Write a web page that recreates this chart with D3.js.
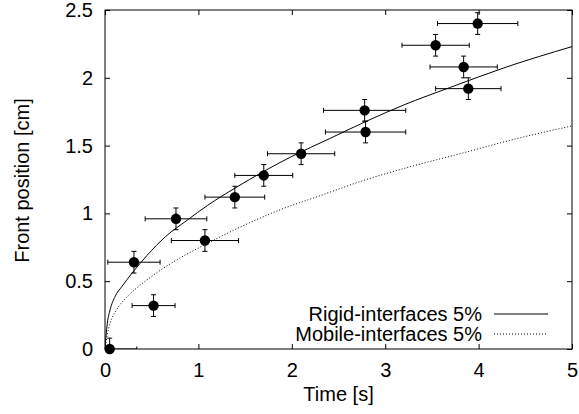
<!DOCTYPE html>
<html>
<head>
<meta charset="utf-8">
<script src="https://cdn.jsdelivr.net/npm/d3@7"></script>
<style>
  body { margin: 0; background: #fff; }
  svg { display: block; font-family: "Liberation Sans", Arial, sans-serif; }
</style>
</head>
<body>
<div id="chart"></div>
<script>
// measured front positions with error bars
var time = [0.05, 0.31, 0.52, 0.76, 1.07, 1.39, 1.70, 2.10, 2.78, 2.79, 3.54, 3.84, 3.89, 3.99];
var front = [0, 0.64, 0.32, 0.96, 0.80, 1.12, 1.28, 1.44, 1.76, 1.60, 2.24, 2.08, 1.92, 2.40];
var timeErr = [0.29, 0.28, 0.23, 0.33, 0.36, 0.32, 0.31, 0.36, 0.44, 0.43, 0.36, 0.36, 0.35, 0.43];
var frontErr = [0.08, 0.08, 0.08, 0.08, 0.08, 0.08, 0.08, 0.08, 0.08, 0.08, 0.08, 0.08, 0.08, 0.08];

// model curves
var rigidT = [0, 0.01, 0.025, 0.055, 0.11, 0.18, 0.29, 0.45, 0.65, 0.88, 1.1, 1.4, 1.7, 2.0, 2.4, 2.8, 3.2, 3.7, 4.3, 5.0];
var rigidY = [0, 0.09, 0.19, 0.29, 0.39, 0.46, 0.56, 0.69, 0.83, 0.95, 1.06, 1.19, 1.31, 1.42, 1.55, 1.68, 1.80, 1.93, 2.08, 2.23];
var mobileT = [0, 0.02, 0.055, 0.125, 0.23, 0.375, 0.57, 0.8, 1.1, 1.45, 1.85, 2.3, 2.8, 3.3, 3.8, 4.4, 5.0];
var mobileY = [0, 0.09, 0.19, 0.29, 0.38, 0.47, 0.57, 0.67, 0.78, 0.90, 1.02, 1.13, 1.25, 1.35, 1.44, 1.55, 1.645];

var xTicks = [0, 1, 2, 3, 4, 5];
var yTicks = [0, 0.5, 1, 1.5, 2, 2.5];
var legendLabels = ["Rigid-interfaces 5%", "Mobile-interfaces 5%"];

var W = 579, H = 414;
var margin = { top: 10, right: 7, bottom: 65, left: 105 };
var width = W - margin.left - margin.right,
  height = H - margin.top - margin.bottom;

var svg = d3.select("#chart").append("svg")
  .attr("width", W)
  .attr("height", H);

var g = svg.append("g")
  .attr("transform", "translate(" + margin.left + "," + margin.top + ")");

var x = d3.scaleLinear().domain([0, 5]).range([0, width]);
var y = d3.scaleLinear().domain([0, 2.5]).range([height, 0]);

svg.append("defs").append("clipPath").attr("id", "plotclip")
  .append("rect").attr("width", width).attr("height", height);

var fontSize = 20;
var tickLen = 5;

// axes: inward ticks on all four sides, labels on bottom and left only
g.append("g").attr("transform", "translate(0," + height + ")")
  .call(d3.axisBottom(x).tickValues(xTicks).tickSizeInner(-tickLen).tickSizeOuter(0).tickPadding(14)
    .tickFormat(d3.format("d")));
g.append("g").call(d3.axisTop(x).tickValues(xTicks).tickSizeInner(-tickLen).tickSizeOuter(0).tickFormat(""));
g.append("g").call(d3.axisLeft(y).tickValues(yTicks).tickSizeInner(-tickLen).tickSizeOuter(0).tickPadding(12)
  .tickFormat(function (d) { return d === 0 ? "0" : String(d); }));
g.append("g").attr("transform", "translate(" + width + ",0)")
  .call(d3.axisRight(y).tickValues(yTicks).tickSizeInner(-tickLen).tickSizeOuter(0).tickFormat(""));

g.selectAll(".domain").remove();
g.selectAll(".tick line").attr("stroke", "#000");
g.selectAll(".tick text").attr("font-size", fontSize).attr("fill", "#000")
  .attr("font-family", "'Liberation Sans', Arial, sans-serif");

g.append("rect")
  .attr("width", width).attr("height", height)
  .attr("fill", "none").attr("stroke", "#000").attr("stroke-width", 1);

// axis titles
svg.append("text")
  .attr("x", margin.left + width / 2).attr("y", 401)
  .attr("text-anchor", "middle").attr("font-size", fontSize)
  .text("Time [s]");

svg.append("text")
  .attr("transform", "translate(29," + (margin.top + height / 2 + 1) + ") rotate(-90)")
  .attr("text-anchor", "middle").attr("font-size", fontSize)
  .text("Front position [cm]");

// curves
var line = d3.line()
  .x(function (d) { return x(d[0]); })
  .y(function (d) { return y(d[1]); })
  .curve(d3.curveMonotoneX);

var plot = g.append("g").attr("clip-path", "url(#plotclip)");

plot.append("path")
  .datum(rigidT.map(function (t, i) { return [t, rigidY[i]]; }))
  .attr("d", line)
  .attr("fill", "none").attr("stroke", "#000").attr("stroke-width", 1);

plot.append("path")
  .datum(mobileT.map(function (t, i) { return [t, mobileY[i]]; }))
  .attr("d", line)
  .attr("fill", "none").attr("stroke", "#000").attr("stroke-width", 1)
  .attr("stroke-dasharray", "1,2");

// error bars
var pts = time.map(function (t, i) {
  return { t: t, f: front[i], dt: timeErr[i], df: frontErr[i] };
});
var cap = 2.5;
var bars = plot.selectAll(".err").data(pts).enter().append("g")
  .attr("stroke", "#000").attr("stroke-width", 1);

bars.append("line")
  .attr("x1", function (d) { return x(d.t - d.dt); })
  .attr("x2", function (d) { return x(d.t + d.dt); })
  .attr("y1", function (d) { return y(d.f); })
  .attr("y2", function (d) { return y(d.f); });
bars.append("line")
  .attr("x1", function (d) { return x(d.t - d.dt); })
  .attr("x2", function (d) { return x(d.t - d.dt); })
  .attr("y1", function (d) { return y(d.f) - cap; })
  .attr("y2", function (d) { return y(d.f) + cap; });
bars.append("line")
  .attr("x1", function (d) { return x(d.t + d.dt); })
  .attr("x2", function (d) { return x(d.t + d.dt); })
  .attr("y1", function (d) { return y(d.f) - cap; })
  .attr("y2", function (d) { return y(d.f) + cap; });
bars.append("line")
  .attr("x1", function (d) { return x(d.t); })
  .attr("x2", function (d) { return x(d.t); })
  .attr("y1", function (d) { return y(d.f - d.df); })
  .attr("y2", function (d) { return y(d.f + d.df); });
bars.append("line")
  .attr("x1", function (d) { return x(d.t) - cap; })
  .attr("x2", function (d) { return x(d.t) + cap; })
  .attr("y1", function (d) { return y(d.f + d.df); })
  .attr("y2", function (d) { return y(d.f + d.df); });
bars.append("line")
  .attr("x1", function (d) { return x(d.t) - cap; })
  .attr("x2", function (d) { return x(d.t) + cap; })
  .attr("y1", function (d) { return y(d.f - d.df); })
  .attr("y2", function (d) { return y(d.f - d.df); });

// markers (not clipped)
g.selectAll(".pt").data(pts).enter().append("circle")
  .attr("cx", function (d) { return x(d.t); })
  .attr("cy", function (d) { return y(d.f); })
  .attr("r", 5.2)
  .attr("fill", "#000");

// legend
var legend = svg.append("g");
legendLabels.forEach(function (label, i) {
  var ly = 314 + i * 20;
  legend.append("text")
    .attr("x", 482).attr("y", ly + 7)
    .attr("text-anchor", "end").attr("font-size", fontSize)
    .text(label);
  legend.append("line")
    .attr("x1", 494).attr("x2", 548)
    .attr("y1", ly).attr("y2", ly)
    .attr("stroke", "#000").attr("stroke-width", 1)
    .attr("stroke-dasharray", i === 1 ? "1,2" : null);
});
</script>
</body>
</html>
